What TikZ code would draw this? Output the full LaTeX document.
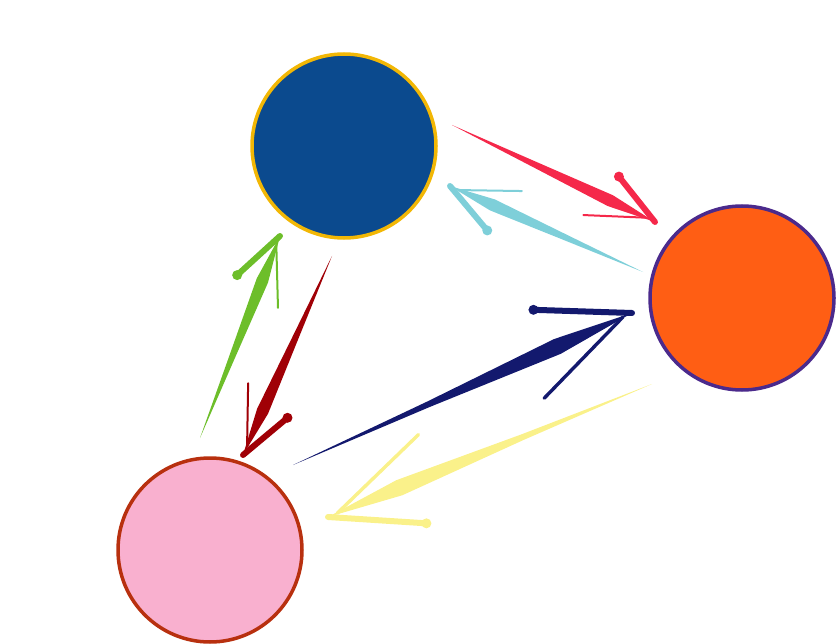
\documentclass[tikz,border=0pt]{standalone}
\usepackage{tikz}
\usetikzlibrary{calc}

\definecolor{blueball}{HTML}{0B4A8E}
\definecolor{goldrim}{HTML}{F2B705}
\definecolor{orangeball}{HTML}{FF5E14}
\definecolor{purplerim}{HTML}{4B2A8C}
\definecolor{pinkball}{HTML}{F9B0CF}
\definecolor{redrim}{HTML}{B8300F}
\definecolor{redarrow}{HTML}{F5284A}
\definecolor{cyanarrow}{HTML}{7ECFD9}
\definecolor{navyarrow}{HTML}{13196E}
\definecolor{yellowarrow}{HTML}{FAF18A}
\definecolor{greenarrow}{HTML}{6DBE2A}
\definecolor{darkredarrow}{HTML}{A00006}

% brush stroke arrow: [barb scale], colour, tail, tip
\newcommand{\brush}[4][1]{%
  \path ($(#3)!0.78!(#4)$) coordinate (mid);
  \fill[#2] (#3) -- ($(#3)!0.4!(#4)!3pt!90:(#4)$) -- ($(mid)!3pt+3pt*#1!90:(#4)$) -- (#4)
    -- ($(mid)!3pt+3pt*#1!-90:(#4)$) -- ($(#3)!0.4!(#4)!3pt!-90:(#4)$) -- cycle;
  \path ($(#4)!#1*58pt!-26:(#3)$) coordinate (barb);
  \draw[#2, line width=6pt, line cap=round] (#4) -- (barb);
  \fill[#2] (barb) circle (5pt);
  \draw[#2, line width=2pt*#1, line cap=round] ($(#4)!10pt!(#3)$) -- ($(#4)!#1*72pt!20:(#3)$);
}

\begin{document}
\begin{tikzpicture}[x=1pt,y=-1pt,
    ball/.style={circle, minimum size=184pt, line width=3.5pt, inner sep=0pt}]
  \useasboundingbox (0,0) rectangle (840,644);

  \node[ball, fill=blueball, draw=goldrim] (top) at (344,146) {};
  \node[ball, fill=orangeball, draw=purplerim] (right) at (742,298) {};
  \node[ball, fill=pinkball, draw=redrim] (left) at (210,550) {};

  \coordinate (rt1) at (452,125);
  \coordinate (rh1) at (655,222);
  \coordinate (ct1) at (643,272);
  \coordinate (ch1) at (450,186);
  \coordinate (nt1) at (293,465);
  \coordinate (nh1) at (632,313);
  \coordinate (yt1) at (652,384);
  \coordinate (yh1) at (328,517);
  \coordinate (gt1) at (200,438);
  \coordinate (gh1) at (280,236);
  \coordinate (dt1) at (332,256);
  \coordinate (dh1) at (243,455);

  \brush{redarrow}{rt1}{rh1}
  \brush{cyanarrow}{ct1}{ch1}
  \brush[1.7]{navyarrow}{nt1}{nh1}
  \brush[1.7]{yellowarrow}{yt1}{yh1}
  \brush{greenarrow}{gt1}{gh1}
  \brush{darkredarrow}{dt1}{dh1}
\end{tikzpicture}
\end{document}
